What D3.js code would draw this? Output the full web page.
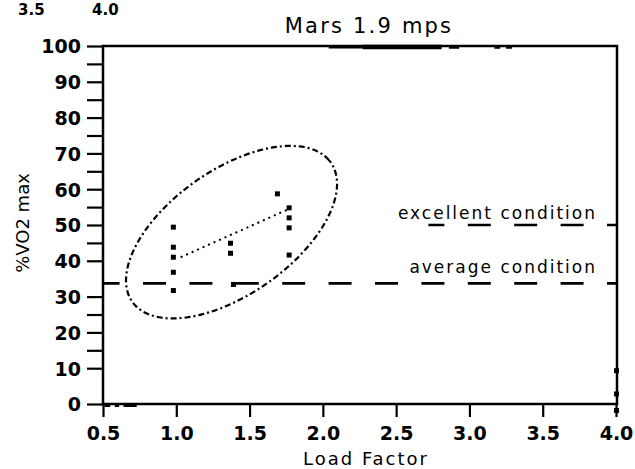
<!DOCTYPE html>
<html><head><meta charset="utf-8">
<script src="https://cdn.jsdelivr.net/npm/d3@7"></script>
<style>
html,body{margin:0;padding:0;background:#fff;}
text{font-family:"DejaVu Sans",sans-serif;fill:#000;}
</style></head>
<body>
<svg id="c" width="635" height="469"></svg>
<script>
// ---- data ----
const title = "Mars 1.9 mps";
const xLabel = "Load Factor";
const yLabel = "%VO2 max";
const xTicks = [0.5, 1.0, 1.5, 2.0, 2.5, 3.0, 3.5, 4.0];
const xTickLabels = ["0.5", "1.0", "1.5", "2.0", "2.5", "3.0", "3.5", "4.0"];
const yTicks = [0, 10, 20, 30, 40, 50, 60, 70, 80, 90, 100];
const yMinorTicks = [15, 25, 45, 55, 65, 75, 85, 95];
const cornerLabels = ["3.5", "4.0"];
// observations [load factor, %VO2max]
const pointsX = [0.98, 0.98, 0.98, 0.98, 0.98, 1.37, 1.37, 1.39, 1.69, 1.77, 1.77, 1.77, 1.77];
const pointsY = [49.4, 43.8, 41.0, 36.8, 31.7, 44.9, 42.1, 33.4, 58.7, 54.8, 52.0, 49.2, 41.6];
// stray marks at the plot edges
const edgeX = [4.0, 4.0, 4.0];
const edgeY = [9.3, 2.8, -1.8];
const topSegments = [[2.04, 2.27, 1.5], [2.27, 2.81, 3], [2.86, 2.93, 2], [3.17, 3.21, 2], [3.25, 3.29, 2]];
const bottomSegments = [[0.51, 0.55], [0.58, 0.61], [0.64, 0.73]];
// trend line
const trendX = [1.03, 1.77];
const trendY = [41.0, 54.5];
// confidence ellipse: centre and semi-axis vectors, data units
const ellipseCenter = [1.377, 48.0];
const ellipseMajor = [0.678, 19.4];
const ellipseMinor = [-0.242, 14.3];
// reference levels
const averageLevel = 33.7;
const excellentLevel = 50.0;
const excellentFrom = 2.72;
const averageText = "average condition";
const excellentText = "excellent condition";

// ---- chart ----
const svg = d3.select("#c");
const x = d3.scaleLinear().domain([0.5, 4.0]).range([103, 616]);
const y = d3.scaleLinear().domain([0, 100]).range([404, 46]);

// reference dashed lines (drawn first, under text)
const dashPeriod = 46.4, dashLen = 23, dashStart = 96.6;
function refLine(x0, val) {
  const px0 = x(x0);
  const off = ((px0 - dashStart) % dashPeriod + dashPeriod) % dashPeriod;
  svg.append("line")
    .attr("x1", px0).attr("x2", x(4.0))
    .attr("y1", y(val)).attr("y2", y(val))
    .attr("stroke", "#000").attr("stroke-width", 2.6)
    .attr("stroke-dasharray", dashLen + "," + (dashPeriod - dashLen))
    .attr("stroke-dashoffset", off);
}
refLine(0.5, averageLevel);
refLine(excellentFrom, excellentLevel);

// ellipse
const ts = d3.range(0, 361, 3).map(d => d * Math.PI / 180);
const ell = ts.map(t => [
  ellipseCenter[0] + Math.cos(t) * ellipseMajor[0] + Math.sin(t) * ellipseMinor[0],
  ellipseCenter[1] + Math.cos(t) * ellipseMajor[1] + Math.sin(t) * ellipseMinor[1]
]);
svg.append("path")
  .attr("d", d3.line().x(d => x(d[0])).y(d => y(d[1])).curve(d3.curveCardinalClosed)(ell))
  .attr("fill", "none").attr("stroke", "#000").attr("stroke-width", 2.2)
  .attr("stroke-dasharray", "6,3,2,3");

// trend line
svg.append("line")
  .attr("x1", x(trendX[0])).attr("y1", y(trendY[0]))
  .attr("x2", x(trendX[1])).attr("y2", y(trendY[1]))
  .attr("stroke", "#000").attr("stroke-width", 2)
  .attr("stroke-dasharray", "2,4");

// points
svg.append("g").selectAll("rect").data(pointsX.map((d, i) => [d, pointsY[i]]))
  .join("rect")
  .attr("x", d => x(d[0]) - 2.5).attr("y", d => y(d[1]) - 2.5)
  .attr("width", 5).attr("height", 5).attr("fill", "#000");
svg.append("g").selectAll("rect").data(edgeX.map((d, i) => [d, edgeY[i]]))
  .join("rect")
  .attr("x", d => x(d[0]) - 2).attr("y", d => y(d[1]) - 2.5)
  .attr("width", 5).attr("height", 5).attr("fill", "#000");

// frame
svg.append("rect")
  .attr("x", x(0.5)).attr("y", y(100))
  .attr("width", x(4.0) - x(0.5) + 1).attr("height", y(0) - y(100))
  .attr("fill", "none").attr("stroke", "#000").attr("stroke-width", 2.5);

topSegments.forEach(s => {
  svg.append("line").attr("x1", x(s[0])).attr("x2", x(s[1]))
    .attr("y1", y(100) + 1).attr("y2", y(100) + 1)
    .attr("stroke", "#000").attr("stroke-width", s[2] + 1.5);
});
bottomSegments.forEach(s => {
  svg.append("line").attr("x1", x(s[0])).attr("x2", x(s[1]))
    .attr("y1", y(0) + 1).attr("y2", y(0) + 1)
    .attr("stroke", "#000").attr("stroke-width", 4);
});

// axes
const yAxis = d3.axisLeft(y).tickValues(yTicks).tickSize(16).tickPadding(6).tickFormat(d3.format("d"));
const gy = svg.append("g").attr("transform", `translate(${x(0.5)},0)`).call(yAxis);
gy.select(".domain").remove();
gy.selectAll(".tick line").attr("stroke-width", 2.2);
gy.selectAll("text").style("font-size", "19px").style("font-weight", "bold").attr("dy", "0.36em");
const gym = svg.append("g").attr("transform", `translate(${x(0.5)},0)`)
  .call(d3.axisLeft(y).tickValues(yMinorTicks).tickSize(16).tickFormat(""));
gym.select(".domain").remove();
gym.selectAll(".tick line").attr("stroke-width", 2.2);

const xAxis = d3.axisBottom(x).tickValues(xTicks).tickSize(13).tickPadding(10)
  .tickFormat((d, i) => xTickLabels[i]);
const gx = svg.append("g").attr("transform", `translate(0,${y(0)})`).call(xAxis);
gx.select(".domain").remove();
gx.selectAll(".tick line").attr("stroke-width", 2.2);
gx.selectAll("text").style("font-size", "19px").style("font-weight", "bold").attr("dy", "0.71em");

// labels
svg.append("text").attr("x", 369).attr("y", 33).attr("text-anchor", "middle")
  .style("font-size", "21px").style("letter-spacing", "2.2px").text(title);
svg.append("text").attr("x", 366).attr("y", 465).attr("text-anchor", "middle")
  .style("font-size", "18px").style("letter-spacing", "2px").text(xLabel);
svg.append("text").attr("transform", "translate(29,223) rotate(-90)").attr("text-anchor", "middle")
  .style("font-size", "18px").text(yLabel);
svg.append("text").attr("x", 18).attr("y", 15).style("font-size", "15px").style("font-weight", "bold").text(cornerLabels[0]);
svg.append("text").attr("x", 92).attr("y", 15).style("font-size", "15px").style("font-weight", "bold").text(cornerLabels[1]);

svg.append("text").attr("x", 597).attr("y", y(excellentLevel) - 6).attr("text-anchor", "end")
  .style("font-size", "17px").style("letter-spacing", "2px").text(excellentText);
svg.append("text").attr("x", 597).attr("y", y(averageLevel) - 10).attr("text-anchor", "end")
  .style("font-size", "17px").style("letter-spacing", "2px").text(averageText);
</script>
</body></html>
